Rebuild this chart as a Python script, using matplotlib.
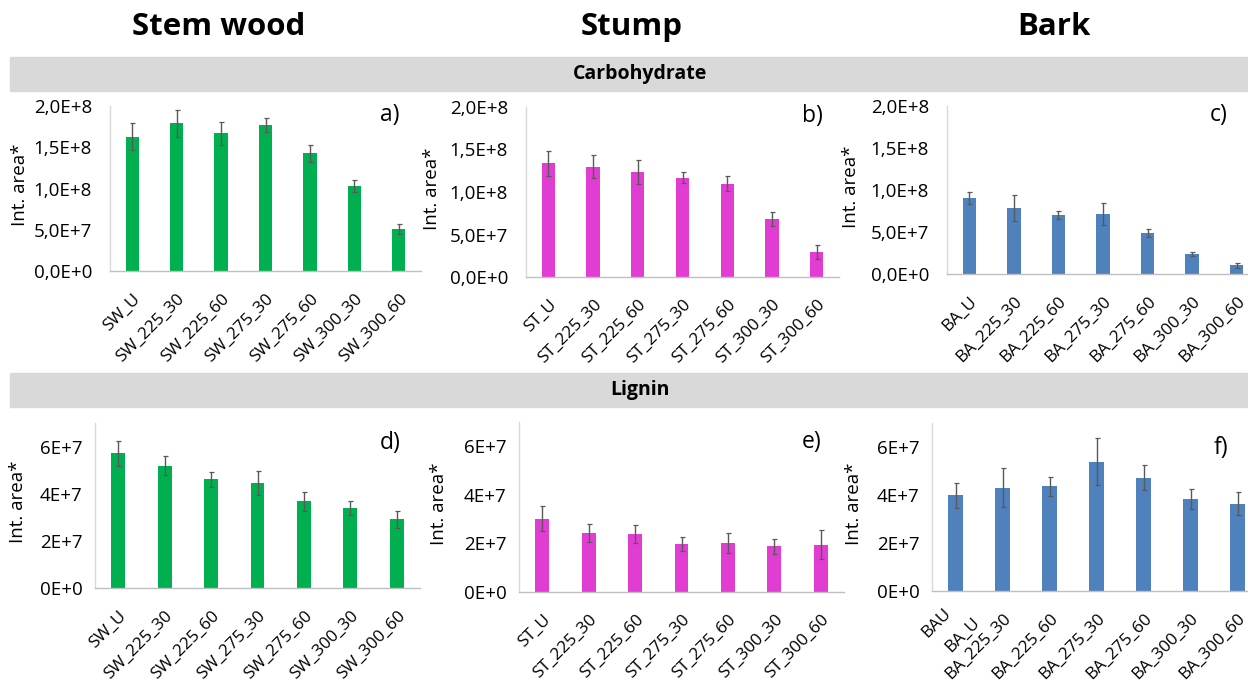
import matplotlib
matplotlib.use("Agg")
import matplotlib.pyplot as plt
import numpy as np

plt.rcParams['font.family'] = ['Open Sans', 'DejaVu Sans']

# ---------------- data ----------------
sw_labels = ["SW_U", "SW_225_30", "SW_225_60", "SW_275_30", "SW_275_60", "SW_300_30", "SW_300_60"]
st_labels = ["ST_U", "ST_225_30", "ST_225_60", "ST_275_30", "ST_275_60", "ST_300_30", "ST_300_60"]
ba_labels = ["BA_U", "BA_225_30", "BA_225_60", "BA_275_30", "BA_275_60", "BA_300_30", "BA_300_60"]
ba_labels_f = ["BAU", "BA_225_30", "BA_225_60", "BA_275_30", "BA_275_60", "BA_300_30", "BA_300_60"]
ba_extra_label = "BA_U"

# Carbohydrate (Int. area)
carb_sw = [162.7e6, 179e6, 166.8e6, 177.3e6, 142.6e6, 102.8e6, 51e6]
carb_sw_err = [16.5e6, 16e6, 14e6, 8.5e6, 10.5e6, 7e6, 6e6]
carb_st = [133.6e6, 130e6, 123.4e6, 116.8e6, 109.7e6, 68.3e6, 29.3e6]
carb_st_err = [14.5e6, 13e6, 13.7e6, 6.5e6, 8.7e6, 8e6, 8e6]
carb_ba = [90.8e6, 78.2e6, 69.9e6, 71.4e6, 48.8e6, 24.2e6, 10.3e6]
carb_ba_err = [7e6, 15.5e6, 5e6, 12.7e6, 5e6, 2.4e6, 2.7e6]

# Lignin (Int. area)
lig_sw = [57.2e6, 51.9e6, 46.1e6, 44.4e6, 36.8e6, 33.9e6, 29.1e6]
lig_sw_err = [5.3e6, 4e6, 3.2e6, 5.1e6, 4.1e6, 2.8e6, 3.6e6]
lig_st = [30.2e6, 24.3e6, 24.0e6, 19.6e6, 20.1e6, 18.8e6, 19.4e6]
lig_st_err = [5.1e6, 3.9e6, 3.7e6, 2.9e6, 4.2e6, 3.0e6, 6e6]
lig_ba = [39.9e6, 43.0e6, 43.7e6, 53.8e6, 47.2e6, 38.3e6, 36.4e6]
lig_ba_err = [5.3e6, 8.2e6, 4e6, 9.8e6, 5.2e6, 4e6, 4.8e6]

carb_yticks = [0, 5e7, 1e8, 1.5e8, 2e8]
carb_yticklabels = ["0,0E+0", "5,0E+7", "1,0E+8", "1,5E+8", "2,0E+8"]
lig_yticks = [0, 2e7, 4e7, 6e7]
lig_yticklabels = ["0E+0", "2E+7", "4E+7", "6E+7"]

col_titles = ["Stem wood", "Stump", "Bark"]
row_titles = ["Carbohydrate", "Lignin"]
panel_letters = ["a)", "b)", "c)", "d)", "e)", "f)"]
ylabel = "Int. area*"

GREEN = "#00B050"
MAGENTA = "#E23DD2"
BLUE = "#4F81BD"

# ---------------- layout ----------------
W, H = 1248, 682
fig = plt.figure(figsize=(W / 100, H / 100), dpi=100)

YTICK_FS = 13.5
XTICK_FS = 12.3
XPAD = 14


def rect(l, r, t, b):
    return [l / W, 1 - b / H, (r - l) / W, (b - t) / H]


def band(y0, y1, text):
    fig.patches.append(plt.Rectangle((10 / W, 1 - y1 / H), (W - 10) / W, (y1 - y0) / H,
                                     transform=fig.transFigure, color="#D9D9D9", zorder=0))
    fig.text(640 / W, 1 - (y0 + y1) / 2 / H, text, ha="center", va="center",
             fontsize=14, fontweight="bold", color="black")


for name, xc in zip(col_titles, [219, 632, 1054]):
    fig.text(xc / W, 1 - 27 / H, name, ha="center", va="center", fontsize=22.5,
             fontweight="bold", color="black")

band(57, 91, row_titles[0])
band(373, 407, row_titles[1])

panels = [
    # rect, labels, vals, errs, color, yticks, yticklabels, ylim, letter pos, ylabel x, ytick pad
    (rect(110, 421, 106, 271), sw_labels, carb_sw, carb_sw_err, GREEN, carb_yticks, carb_yticklabels, 2e8, (0.93, 1.02), -0.26, 13),
    (rect(526, 839, 107, 277), st_labels, carb_st, carb_st_err, MAGENTA, carb_yticks, carb_yticklabels, 2e8, (0.95, 1.02), -0.27, 13),
    (rect(947, 1259, 106, 274), ba_labels, carb_ba, carb_ba_err, BLUE, carb_yticks, carb_yticklabels, 2e8, (0.90, 1.02), -0.28, 13),
    (rect(95, 420, 423, 588), sw_labels, lig_sw, lig_sw_err, GREEN, lig_yticks, lig_yticklabels, 7e7, (0.94, 0.95), -0.21, 9),
    (rect(519, 844, 422, 592), st_labels, lig_st, lig_st_err, MAGENTA, lig_yticks, lig_yticklabels, 7e7, (0.93, 0.955), -0.22, 9),
    (rect(932, 1261, 423, 591), ba_labels_f, lig_ba, lig_ba_err, BLUE, lig_yticks, lig_yticklabels, 7e7, (0.90, 0.92), -0.21, 9),
]

axes = []
for i, (r, labels, vals, errs, color, yt, ytl, ytop, lpos, ylx, ypad) in enumerate(panels):
    ax = fig.add_axes(r)
    x = np.arange(len(labels))
    ax.bar(x, vals, width=0.3, color=color, yerr=errs,
           error_kw=dict(ecolor="#595959", elinewidth=1.0, capsize=1.8, capthick=0.9))
    ax.set_xlim(-0.5, len(labels) - 0.5)
    ax.set_ylim(0, ytop)
    ax.set_yticks(yt)
    ax.set_yticklabels(ytl, fontsize=YTICK_FS)
    ax.set_xticks(x)
    shown = list(labels)
    if i == 5:
        shown[0] = ""   # drawn separately below (overlapping labels in the original)
    ax.set_xticklabels(shown, rotation=45, ha="right", rotation_mode="anchor", fontsize=XTICK_FS)
    ax.tick_params(axis="y", length=0, pad=ypad)
    ax.tick_params(axis="x", length=0, pad=XPAD)
    for s in ["top", "right"]:
        ax.spines[s].set_visible(False)
    ax.spines["left"].set_color("#D9D9D9")
    ax.spines["bottom"].set_color("#BFBFBF")
    ax.spines["left"].set_linewidth(1.0)
    ax.spines["bottom"].set_linewidth(1.0)
    ax.set_ylabel(ylabel, fontsize=13.5)
    ax.yaxis.set_label_coords(ylx, 0.52)
    ax.text(lpos[0], lpos[1], panel_letters[i], transform=ax.transAxes, ha="right", va="top",
            fontsize=16.5)
    ax.patch.set_alpha(0)
    axes.append(ax)

# overlapping first labels in panel f
axf = axes[5]
for txt, off in [(ba_labels_f[0], (-9, -XPAD + 4)), (ba_extra_label, (12, -XPAD - 3))]:
    axf.annotate(txt, xy=(0, 0), xycoords=("data", "axes fraction"),
                 xytext=off, textcoords="offset points", rotation=45,
                 ha="right", va="top", rotation_mode="anchor", fontsize=XTICK_FS)

fig.savefig("out.png", dpi=100)
